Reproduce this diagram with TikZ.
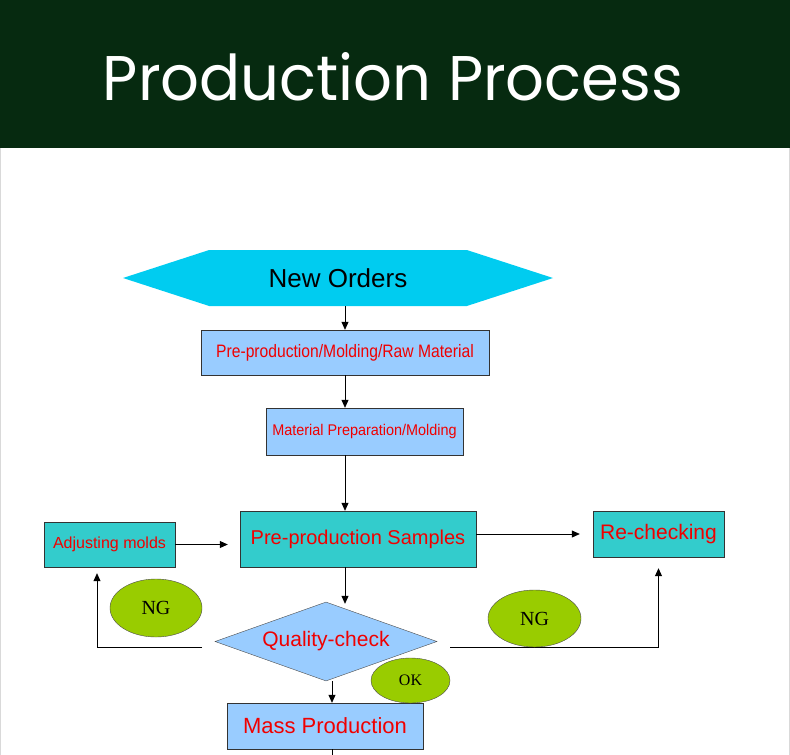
\documentclass[tikz,border=0pt]{standalone}
\usepackage{fontspec}
\setmainfont{Liberation Sans}
\newfontfamily\titlefont{Poppins}
\newfontfamily\ngfont{Liberation Serif}
\usetikzlibrary{shapes.geometric,shapes.symbols,arrows.meta}

\definecolor{headgreen}{RGB}{6,42,16}
\definecolor{ordercyan}{RGB}{0,204,240}
\definecolor{boxblue}{RGB}{153,204,255}
\definecolor{boxteal}{RGB}{51,204,204}
\definecolor{textred}{RGB}{240,0,0}
\definecolor{nggreen}{RGB}{153,204,0}

\newcommand{\sx}[2]{\scalebox{#1}[1]{#2}}
\newcommand{\fsz}[1]{\fontsize{#1}{#1}\selectfont}

\tikzset{
  box/.style={draw=black!80, rectangle, inner sep=0pt, text=textred},
  blue box/.style={box, fill=boxblue},
  teal box/.style={box, fill=boxteal},
  ng/.style={draw=black!70, ellipse, inner sep=0pt, fill=nggreen, font=\ngfont\fsz{20}},
  link/.style={draw, thick, -{Triangle[length=8pt,width=7pt]}},
}

\begin{document}
\begin{tikzpicture}[x=1pt, y=-1pt]
\useasboundingbox (0,0) rectangle (790,755);

% header
\fill[headgreen] (0,0) rectangle (790,148);
\draw[black!15] (0.5,148) -- (0.5,755) (789.5,148) -- (789.5,755);
\node[text=white, inner sep=0pt] (title) at (393,77) {\titlefont\resizebox{580pt}{48pt}{Production Process}};

% flow
\node[signal, signal to=west and east, signal pointer angle=36, fill=ordercyan,
      minimum width=430pt, minimum height=56pt, inner sep=0pt, font=\fsz{26}] (orders) at (338,278) {New Orders};
\node[blue box, minimum width=288pt, minimum height=45pt, font=\fsz{18}] (box1) at (345,352.5) {\sx{0.87}{Pre-production/Molding/Raw Material}};
\node[blue box, minimum width=197pt, minimum height=47pt, font=\fsz{15.5}] (box2) at (364.5,431.5) {\sx{0.93}{Material Preparation/Molding}};
\node[teal box, minimum width=236pt, minimum height=56pt, font=\fsz{20}] (samples) at (358,539) {Pre-production Samples};
\node[teal box, minimum width=131pt, minimum height=45pt, font=\fsz{16}] (adjust) at (109.5,544.5) {Adjusting molds};
\node[teal box, minimum width=131pt, minimum height=46pt, font=\fsz{21}] (recheck) at (658.5,534) {Re-checking};
\node[diamond, aspect=2.81, draw=black!70, fill=boxblue, text=textred, inner sep=0pt,
      minimum width=222pt, minimum height=79pt, font=\fsz{21}] (qc) at (326,641.5) {Quality-check};
\node[blue box, minimum width=196pt, minimum height=46pt, font=\fsz{22}] (mass) at (325,726) {Mass Production};

\coordinate (qcL) at (202,647);
\coordinate (qcR) at (450,647);
\coordinate (cut) at (332,755);

\path[link] (orders.south -| box1) -- (box1.north);
\path[link] (box1) -- (box1 |- box2.north);
\path[link] (box2.south -| box1) -- (box1 |- samples.north);
\path[link] (samples.south -| box1) -- ([yshift=-2pt]box1 |- qc.north);
\path[link, shorten >=12pt] (adjust) -- (adjust -| samples.west);
\path[link, shorten >=13pt] (samples.east |- recheck) -- (recheck.west);
\path[link] (qcL) -| ([xshift=-12.5pt,yshift=-6pt]adjust.south);
\path[link] (qcR) -| ([yshift=-11pt]recheck.south);
\path[link] ([xshift=6pt]qc.south) -- ([xshift=6pt]qc.south |- mass.north);
\path[draw, thick] (cut |- mass.south) -- (cut);

\node[ng, minimum width=92pt, minimum height=58pt] (ngL) at (156,608) {NG};
\node[ng, minimum width=93pt, minimum height=57pt] (ngR) at (534.5,618.5) {NG};
\node[ng, minimum width=79pt, minimum height=45pt, font=\ngfont\fsz{16}] (ok) at (410.5,680.5) {OK};
\end{tikzpicture}
\end{document}
